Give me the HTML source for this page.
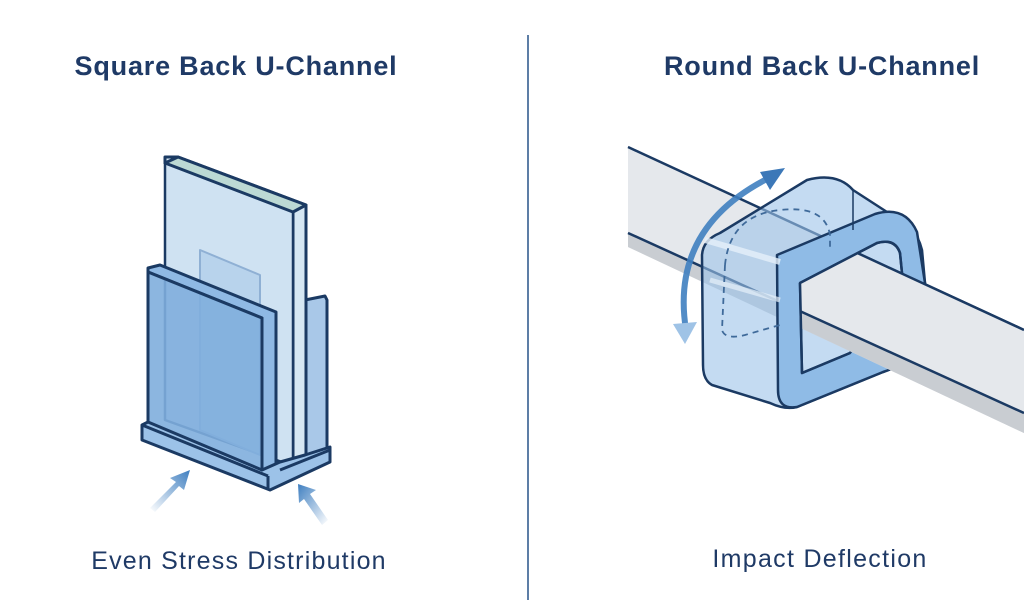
<!DOCTYPE html>
<html><head><meta charset="utf-8"><style>
html,body{margin:0;padding:0;background:#fff;}
svg{display:block}
</style></head><body>
<svg width="1024" height="613" viewBox="0 0 1024 613" xmlns="http://www.w3.org/2000/svg">
<defs>
<linearGradient id="ga" x1="0" y1="1" x2="1" y2="0"><stop offset="0" stop-color="#3f7fc0" stop-opacity="0"/><stop offset="1" stop-color="#3f7fc0"/></linearGradient>
<linearGradient id="gb" x1="1" y1="1" x2="0" y2="0"><stop offset="0" stop-color="#3f7fc0" stop-opacity="0"/><stop offset="1" stop-color="#3f7fc0"/></linearGradient>
<clipPath id="front"><polygon points="800,283 877,243 902,253 902,272 1024,328 1024,613 850,613 850,353 802,373"/></clipPath>
</defs>
<rect width="1024" height="613" fill="#fff"/>
<line x1="528" y1="35" x2="528" y2="600" stroke="#5d7ea6" stroke-width="2"/>
<g font-family="Liberation Sans, sans-serif" fill="#1f3a66">
<text x="236" y="75" font-size="27" font-weight="bold" letter-spacing="0.8" text-anchor="middle">Square Back U-Channel</text>
<text x="822" y="75" font-size="27" font-weight="bold" letter-spacing="0.8" text-anchor="middle">Round Back U-Channel</text>
<text x="239" y="569" font-size="25" letter-spacing="1.2" text-anchor="middle">Even Stress Distribution</text>
<text x="820" y="567" font-size="25" letter-spacing="1.3" text-anchor="middle">Impact Deflection</text>
</g>
<!-- LEFT -->
<g stroke="#1b3a63" stroke-width="3" stroke-linejoin="round">
<polygon points="305,300 325,296 327,300 327,455 305,460" fill="#a9c8e8"/>
<polygon points="165,157 178,157 306,205 306,462 293,466 293,212 165,163" fill="#d6e7f3"/>
<polygon points="165,163 293,212 293,466 165,420" fill="#cfe2f2" stroke-width="2.5"/>
<polygon points="178,157 306,205 293,212 165,163" fill="#bcd9d4"/>
<polygon points="200,250 260,275 260,455 200,430" fill="#b8d3ec" stroke="#8fb0d4" stroke-width="2"/>
<polygon points="148,268 160,265 276,312 276,470 262,475 262,318 148,272" fill="#8fb9e4"/>
<polygon points="148,272 262,318 262,475 148,428" fill="#7faedd" fill-opacity="0.9"/>
<polygon points="142,425 148,422 262,470 280,462 305,455 330,447 330,462 270,490 142,440" fill="#9cc2e8"/>
<line x1="142" y1="425" x2="268" y2="476"/>
<line x1="268" y1="476" x2="268" y2="490"/>
<line x1="280" y1="470" x2="330" y2="450"/>
</g>
<polygon points="150,508 176,482 170,478 190,470 184,490 179,486 155,512" fill="url(#ga)"/>
<polygon points="322,525 304,499 299,503 298,484 316,490 310,494 328,520" fill="url(#gb)"/>
<!-- RIGHT: rod (behind) -->
<polygon points="628,147 1024,330 1024,433 628,247" fill="#e5e8ec"/>
<polygon points="628,233 1024,413 1024,433 628,247" fill="#c9cdd2"/>
<line x1="628" y1="147" x2="1024" y2="330" stroke="#1b3a63" stroke-width="2.5"/>
<line x1="628" y1="233" x2="1024" y2="413" stroke="#1b3a63" stroke-width="2.5"/>
<!-- ring -->
<g stroke="#1b3a63" stroke-width="2.5" stroke-linejoin="round">
<path d="M720,233 L807,180 Q837,172 853,190 L887,212 Q915,222 922,250 L925,283 L923,330 Q920,360 883,372 L797,407 Q785,410 770,403 L712,385 Q703,380 703,365 L702,255 Q703,240 720,233 Z" fill="#9cc3ea" fill-opacity="0.6"/>
<path d="M777,255 L875,214 Q905,205 917,232 L925,283 L923,330 Q920,360 883,372 L797,407 Q778,410 778,390 Z M800,283 L877,243 Q895,238 900,253 L902,273 L850,353 L802,373 Z" fill="#8fbbe6" fill-rule="evenodd"/>
</g>
<line x1="853" y1="190" x2="853" y2="230" stroke="#1b3a63" stroke-width="1.5"/>
<path d="M705,240 L780,262" stroke="#e6f1fb" stroke-width="6" opacity="0.8"/>
<path d="M710,280 L780,300" stroke="#e6f1fb" stroke-width="5" opacity="0.7"/>
<path d="M725,265 Q730,215 780,210 Q825,205 830,235 L830,250 M725,265 L722,330 Q725,340 745,335 L780,325" fill="none" stroke="#3f6a9a" stroke-width="1.8" stroke-dasharray="6,5"/>
<!-- rod in front -->
<g clip-path="url(#front)">
<polygon points="628,147 1024,330 1024,433 628,247" fill="#e5e8ec"/>
<polygon points="628,233 1024,413 1024,433 628,247" fill="#c9cdd2"/>
<line x1="628" y1="147" x2="1024" y2="330" stroke="#1b3a63" stroke-width="2.5"/>
<line x1="628" y1="233" x2="1024" y2="413" stroke="#1b3a63" stroke-width="2.5"/>
</g>
<path d="M800,283 L877,243 Q895,238 900,253 L902,273 M850,353 L802,373 L800,283" fill="none" stroke="#1b3a63" stroke-width="2.5" stroke-linejoin="round"/>
<!-- rotation arrow -->
<path d="M686,330 Q670,230 765,180" fill="none" stroke="#3f7fc0" stroke-width="6" opacity="0.9"/>
<polygon points="785,168 760,172 770,190" fill="#3c78b8"/>
<polygon points="673,324 697,322 685,344" fill="#9fc3e6"/>
</svg>
</body></html>
